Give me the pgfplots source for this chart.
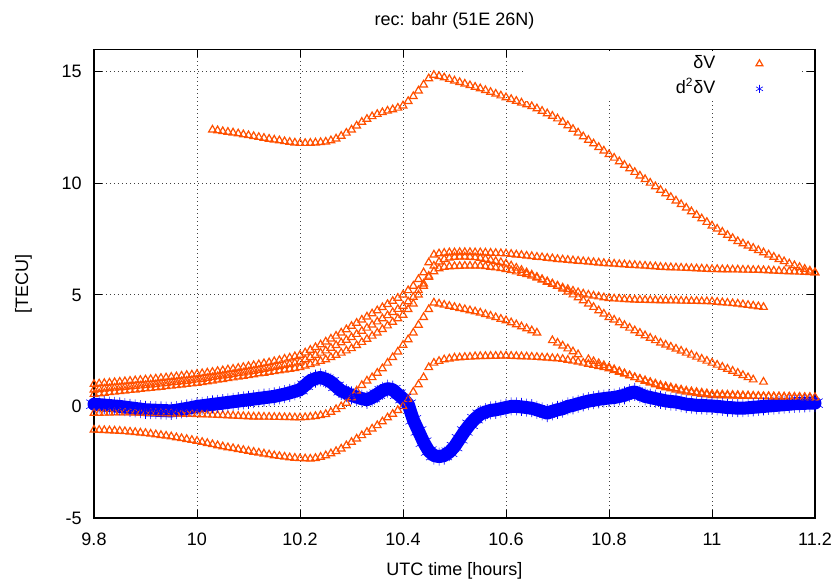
\documentclass[border=0pt]{standalone}
\usepackage{fontspec}
\setmainfont{Liberation Sans}
\usepackage{pgfplots}
\usepackage{pgfplotstable}
\pgfplotsset{compat=1.18}
\definecolor{dvorange}{RGB}{255,80,0}
\definecolor{dvblue}{RGB}{0,0,255}

\pgfplotstableread{
x y
10.03 12.40
10.04 12.37
10.05 12.33
10.06 12.30
10.07 12.27
10.08 12.23
10.09 12.19
10.10 12.15
10.11 12.11
10.12 12.07
10.13 12.03
10.14 11.99
10.15 11.95
10.16 11.92
10.17 11.88
10.18 11.85
10.19 11.82
10.20 11.80
10.21 11.80
10.22 11.81
10.23 11.82
10.24 11.84
10.25 11.86
10.26 11.92
10.27 12.00
10.28 12.12
10.29 12.26
10.30 12.40
10.31 12.58
10.32 12.75
10.33 12.88
10.34 13.00
10.35 13.10
10.36 13.18
10.37 13.25
10.38 13.31
10.39 13.38
10.40 13.48
10.41 13.68
10.42 13.90
10.43 14.15
10.44 14.42
10.45 14.70
10.46 14.85
10.47 14.80
10.48 14.74
10.49 14.67
10.50 14.60
10.51 14.53
10.52 14.46
10.53 14.39
10.54 14.32
10.55 14.25
10.56 14.17
10.57 14.09
10.58 14.01
10.59 13.93
10.60 13.85
10.61 13.77
10.62 13.69
10.63 13.61
10.64 13.53
10.65 13.45
10.66 13.35
10.67 13.24
10.68 13.13
10.69 13.02
10.70 12.90
10.71 12.75
10.72 12.59
10.73 12.43
10.74 12.27
10.75 12.10
10.76 11.94
10.77 11.78
10.78 11.62
10.79 11.46
10.80 11.30
10.81 11.14
10.82 10.98
10.83 10.82
10.84 10.66
10.85 10.50
10.86 10.34
10.87 10.18
10.88 10.02
10.89 9.86
10.90 9.70
10.91 9.54
10.92 9.38
10.93 9.22
10.94 9.06
10.95 8.90
10.96 8.74
10.97 8.58
10.98 8.42
10.99 8.26
11.00 8.10
11.01 7.96
11.02 7.82
11.03 7.68
11.04 7.54
11.05 7.40
11.06 7.30
11.07 7.20
11.08 7.10
11.09 7.00
11.10 6.90
11.11 6.80
11.12 6.70
11.13 6.60
11.14 6.50
11.15 6.40
11.16 6.32
11.17 6.24
11.18 6.16
11.19 6.08
11.20 6.00
}\tA

\pgfplotstableread{
x y
9.80 1.00
9.81 1.02
9.82 1.04
9.83 1.06
9.84 1.08
9.85 1.10
9.86 1.12
9.87 1.14
9.88 1.16
9.89 1.18
9.90 1.20
9.91 1.22
9.92 1.24
9.93 1.27
9.94 1.29
9.95 1.32
9.96 1.34
9.97 1.37
9.98 1.40
9.99 1.42
10.00 1.45
10.01 1.48
10.02 1.51
10.03 1.54
10.04 1.58
10.05 1.61
10.06 1.65
10.07 1.68
10.08 1.72
10.09 1.76
10.10 1.80
10.11 1.84
10.12 1.88
10.13 1.93
10.14 1.97
10.15 2.02
10.16 2.07
10.17 2.13
10.18 2.18
10.19 2.24
10.20 2.30
10.21 2.41
10.22 2.53
10.23 2.65
10.24 2.77
10.25 2.90
10.26 3.03
10.27 3.16
10.28 3.30
10.29 3.45
10.30 3.60
10.31 3.74
10.32 3.88
10.33 4.02
10.34 4.16
10.35 4.30
10.36 4.44
10.37 4.58
10.38 4.72
10.39 4.86
10.40 5.00
10.41 5.20
10.42 5.40
10.43 5.70
10.44 6.00
10.45 6.45
10.46 6.80
10.47 6.85
10.48 6.88
10.49 6.90
10.50 6.90
10.51 6.91
10.52 6.91
10.53 6.91
10.54 6.90
10.55 6.90
10.56 6.89
10.57 6.88
10.58 6.87
10.59 6.86
10.60 6.85
10.61 6.83
10.62 6.80
10.63 6.78
10.64 6.75
10.65 6.73
10.66 6.70
10.67 6.68
10.68 6.65
10.69 6.63
10.70 6.60
10.71 6.58
10.72 6.56
10.73 6.54
10.74 6.52
10.75 6.50
10.76 6.48
10.77 6.46
10.78 6.44
10.79 6.42
10.80 6.40
10.81 6.39
10.82 6.37
10.83 6.36
10.84 6.34
10.85 6.33
10.86 6.31
10.87 6.30
10.88 6.28
10.89 6.27
10.90 6.25
10.91 6.24
10.92 6.23
10.93 6.22
10.94 6.21
10.95 6.20
10.96 6.19
10.97 6.18
10.98 6.17
10.99 6.16
11.00 6.15
11.01 6.15
11.02 6.14
11.03 6.14
11.04 6.13
11.05 6.13
11.06 6.12
11.07 6.12
11.08 6.11
11.09 6.11
11.10 6.10
11.11 6.09
11.12 6.08
11.13 6.07
11.14 6.06
11.15 6.05
11.16 6.04
11.17 6.03
11.18 6.02
11.19 6.01
11.20 6.00
}\tB

\pgfplotstableread{
x y
9.80 0.75
9.81 0.77
9.82 0.79
9.83 0.81
9.84 0.83
9.85 0.85
9.86 0.87
9.87 0.89
9.88 0.91
9.89 0.93
9.90 0.95
9.91 0.97
9.92 0.99
9.93 1.02
9.94 1.04
9.95 1.07
9.96 1.09
9.97 1.12
9.98 1.14
9.99 1.17
10.00 1.20
10.01 1.23
10.02 1.27
10.03 1.30
10.04 1.34
10.05 1.37
10.06 1.41
10.07 1.44
10.08 1.48
10.09 1.51
10.10 1.55
10.11 1.59
10.12 1.63
10.13 1.67
10.14 1.71
10.15 1.76
10.16 1.80
10.17 1.85
10.18 1.90
10.19 1.95
10.20 2.00
10.21 2.10
10.22 2.20
10.23 2.30
10.24 2.40
10.25 2.50
10.26 2.62
10.27 2.74
10.28 2.86
10.29 2.98
10.30 3.10
10.31 3.24
10.32 3.38
10.33 3.52
10.34 3.66
10.35 3.80
10.36 3.94
10.37 4.08
10.38 4.22
10.39 4.36
10.40 4.50
10.41 4.70
10.42 4.90
10.43 5.20
10.44 5.50
10.45 5.80
10.46 6.05
10.47 6.18
10.48 6.25
10.49 6.27
10.50 6.28
10.51 6.29
10.52 6.30
10.53 6.30
10.54 6.30
10.55 6.30
10.56 6.28
10.57 6.25
10.58 6.22
10.59 6.19
10.60 6.15
10.61 6.10
10.62 6.04
10.63 5.98
10.64 5.92
10.65 5.85
10.66 5.76
10.67 5.67
10.68 5.58
10.69 5.49
10.70 5.40
10.71 5.32
10.72 5.25
10.73 5.18
10.74 5.11
10.75 5.05
10.76 5.00
10.77 4.96
10.78 4.92
10.79 4.88
10.80 4.85
10.81 4.83
10.82 4.82
10.83 4.80
10.84 4.79
10.85 4.78
10.86 4.77
10.87 4.77
10.88 4.76
10.89 4.76
10.90 4.75
10.91 4.75
10.92 4.74
10.93 4.74
10.94 4.73
10.95 4.73
10.96 4.72
10.97 4.72
10.98 4.71
10.99 4.71
11.00 4.70
11.01 4.68
11.02 4.66
11.03 4.64
11.04 4.62
11.05 4.60
11.06 4.57
11.07 4.54
11.08 4.51
11.09 4.48
11.10 4.45
}\tC

\pgfplotstableread{
x y
9.80 0.55
9.81 0.58
9.82 0.60
9.83 0.63
9.84 0.65
9.85 0.68
9.86 0.70
9.87 0.73
9.88 0.75
9.89 0.78
9.90 0.80
9.91 0.82
9.92 0.85
9.93 0.87
9.94 0.90
9.95 0.92
9.96 0.95
9.97 0.97
9.98 1.00
9.99 1.02
10.00 1.05
10.01 1.08
10.02 1.12
10.03 1.15
10.04 1.19
10.05 1.22
10.06 1.26
10.07 1.29
10.08 1.33
10.09 1.36
10.10 1.40
10.11 1.43
10.12 1.47
10.13 1.50
10.14 1.54
10.15 1.57
10.16 1.61
10.17 1.64
10.18 1.68
10.19 1.71
10.20 1.75
10.21 1.82
10.22 1.89
10.23 1.96
10.24 2.03
10.25 2.10
10.26 2.20
10.27 2.30
10.28 2.40
10.29 2.50
10.30 2.60
10.31 2.74
10.32 2.88
10.33 3.02
10.34 3.16
10.35 3.30
10.36 3.46
10.37 3.62
10.38 3.78
10.39 3.94
10.40 4.10
10.41 4.35
10.42 4.60
10.43 5.00
10.44 5.40
10.45 5.85
10.46 6.30
10.47 6.48
10.48 6.60
10.49 6.66
10.50 6.70
10.51 6.71
10.52 6.71
10.53 6.70
10.54 6.68
10.55 6.65
10.56 6.61
10.57 6.56
10.58 6.51
10.59 6.46
10.60 6.40
10.61 6.31
10.62 6.21
10.63 6.11
10.64 6.00
10.65 5.90
10.66 5.80
10.67 5.70
10.68 5.60
10.69 5.50
10.70 5.40
10.71 5.27
10.72 5.14
10.73 5.01
10.74 4.88
10.75 4.75
10.76 4.60
10.77 4.45
10.78 4.30
10.79 4.15
10.80 4.00
10.81 3.88
10.82 3.76
10.83 3.64
10.84 3.52
10.85 3.40
10.86 3.29
10.87 3.18
10.88 3.07
10.89 2.96
10.90 2.85
10.91 2.76
10.92 2.67
10.93 2.58
10.94 2.49
10.95 2.40
10.96 2.31
10.97 2.22
10.98 2.13
10.99 2.04
11.00 1.95
11.01 1.86
11.02 1.77
11.03 1.68
11.04 1.59
11.05 1.50
11.06 1.40
11.07 1.30
11.08 1.20
11.10 1.10
}\tD

\pgfplotstableread{
x y
9.80 -0.30
9.81 -0.30
9.82 -0.29
9.83 -0.29
9.84 -0.28
9.85 -0.28
9.86 -0.28
9.87 -0.28
9.88 -0.29
9.89 -0.29
9.90 -0.30
9.91 -0.30
9.92 -0.31
9.93 -0.31
9.94 -0.32
9.95 -0.32
9.96 -0.33
9.97 -0.33
9.98 -0.34
9.99 -0.34
10.00 -0.35
10.01 -0.36
10.02 -0.37
10.03 -0.38
10.04 -0.39
10.05 -0.40
10.06 -0.41
10.07 -0.42
10.08 -0.43
10.09 -0.44
10.10 -0.45
10.11 -0.46
10.12 -0.46
10.13 -0.47
10.14 -0.47
10.15 -0.48
10.16 -0.48
10.17 -0.49
10.18 -0.49
10.19 -0.50
10.20 -0.50
10.21 -0.49
10.22 -0.47
10.23 -0.44
10.24 -0.40
10.25 -0.35
10.26 -0.25
10.27 -0.13
10.28 0.00
10.29 0.15
10.30 0.40
10.31 0.70
10.32 0.95
10.33 1.15
10.34 1.30
10.35 1.50
10.36 1.70
10.37 1.95
10.38 2.20
10.39 2.45
10.40 2.75
10.41 3.00
10.42 3.30
10.43 3.65
10.44 4.00
10.45 4.35
10.46 4.65
10.47 4.60
10.48 4.55
10.49 4.50
10.50 4.45
10.51 4.40
10.52 4.35
10.53 4.30
10.54 4.25
10.55 4.20
10.56 4.13
10.57 4.06
10.58 3.99
10.59 3.92
10.60 3.85
10.61 3.76
10.62 3.67
10.63 3.58
10.64 3.49
10.65 3.40
10.66 3.30
10.69 2.96
10.70 2.85
10.71 2.72
10.72 2.59
10.73 2.46
10.74 2.33
10.76 2.11
10.77 2.02
10.78 1.93
10.79 1.84
10.80 1.75
10.81 1.66
10.82 1.57
10.83 1.48
10.84 1.39
10.85 1.30
10.86 1.23
10.87 1.16
10.88 1.09
10.89 1.02
10.90 0.95
10.91 0.90
10.92 0.85
10.93 0.80
10.94 0.75
10.95 0.70
10.96 0.67
10.97 0.64
10.98 0.61
10.99 0.58
11.00 0.55
11.01 0.54
11.02 0.53
11.03 0.52
11.04 0.51
11.05 0.50
11.06 0.49
11.07 0.48
11.08 0.47
11.09 0.46
11.10 0.45
11.11 0.45
11.12 0.44
11.13 0.44
11.14 0.43
11.15 0.43
11.16 0.42
11.17 0.42
11.18 0.41
11.19 0.41
11.20 0.40
}\tE

\pgfplotstableread{
x y
9.80 -1.05
9.81 -1.06
9.82 -1.07
9.83 -1.08
9.84 -1.09
9.85 -1.10
9.86 -1.12
9.87 -1.14
9.88 -1.16
9.89 -1.18
9.90 -1.20
9.91 -1.23
9.92 -1.26
9.93 -1.29
9.94 -1.32
9.95 -1.35
9.96 -1.39
9.97 -1.43
9.98 -1.47
9.99 -1.51
10.00 -1.55
10.01 -1.60
10.02 -1.65
10.03 -1.70
10.04 -1.75
10.05 -1.80
10.06 -1.84
10.07 -1.88
10.08 -1.92
10.09 -1.96
10.10 -2.00
10.11 -2.04
10.12 -2.08
10.13 -2.12
10.14 -2.16
10.15 -2.20
10.16 -2.23
10.17 -2.26
10.18 -2.29
10.19 -2.31
10.20 -2.33
10.21 -2.34
10.22 -2.35
10.23 -2.32
10.24 -2.27
10.25 -2.20
10.26 -2.11
10.27 -2.01
10.28 -1.90
10.29 -1.75
10.30 -1.60
10.31 -1.45
10.32 -1.30
10.33 -1.15
10.34 -1.00
10.35 -0.85
10.36 -0.68
10.37 -0.50
10.38 -0.34
10.39 -0.17
10.40 0.00
10.41 0.32
10.42 0.65
10.43 0.98
10.44 1.30
10.45 1.75
10.46 1.95
10.47 2.03
10.48 2.10
10.49 2.14
10.50 2.18
10.51 2.19
10.52 2.21
10.53 2.22
10.54 2.24
10.55 2.25
10.56 2.25
10.57 2.26
10.58 2.26
10.59 2.27
10.60 2.27
10.61 2.26
10.62 2.25
10.63 2.24
10.64 2.23
10.65 2.22
10.66 2.21
10.67 2.19
10.68 2.18
10.69 2.16
10.70 2.15
10.71 2.12
10.72 2.08
10.73 2.04
10.74 2.00
10.75 1.95
10.76 1.90
10.77 1.85
10.78 1.80
10.79 1.75
10.80 1.70
10.81 1.62
10.82 1.54
10.83 1.46
10.84 1.38
10.85 1.30
10.86 1.22
10.87 1.14
10.88 1.06
10.89 0.98
10.90 0.90
10.91 0.85
10.92 0.80
10.93 0.75
10.94 0.70
10.95 0.65
10.96 0.62
10.97 0.59
10.98 0.56
10.99 0.53
11.00 0.50
11.01 0.50
11.02 0.49
11.03 0.49
11.04 0.48
11.05 0.48
11.06 0.47
11.07 0.47
11.08 0.46
11.09 0.46
11.10 0.45
11.11 0.45
11.12 0.44
11.13 0.44
11.14 0.43
11.15 0.43
11.16 0.42
11.17 0.42
11.18 0.41
11.19 0.41
11.20 0.40
}\tF

\pgfplotstableread{
x y
9.80 0.10
9.81 0.08
9.82 0.06
9.83 0.04
9.84 0.02
9.85 0.00
9.86 -0.03
9.87 -0.06
9.88 -0.09
9.89 -0.12
9.90 -0.15
9.91 -0.16
9.92 -0.17
9.93 -0.18
9.94 -0.19
9.95 -0.20
9.96 -0.17
9.97 -0.13
9.98 -0.09
9.99 -0.05
10.00 0.00
10.01 0.03
10.02 0.06
10.03 0.09
10.04 0.12
10.05 0.15
10.06 0.18
10.07 0.21
10.08 0.24
10.09 0.27
10.10 0.30
10.11 0.33
10.12 0.36
10.13 0.39
10.14 0.42
10.15 0.45
10.16 0.50
10.17 0.55
10.18 0.61
10.19 0.68
10.20 0.75
10.21 0.95
10.22 1.15
10.23 1.25
10.24 1.30
10.25 1.22
10.26 1.10
10.27 0.90
10.28 0.70
10.29 0.60
10.30 0.50
10.31 0.42
10.32 0.35
10.33 0.30
10.34 0.40
10.35 0.55
10.36 0.70
10.37 0.80
10.38 0.75
10.39 0.55
10.40 0.35
10.41 0.10
10.42 -0.60
10.43 -1.10
10.44 -1.60
10.45 -2.00
10.46 -2.20
10.47 -2.25
10.48 -2.20
10.49 -2.05
10.50 -1.80
10.51 -1.45
10.52 -1.10
10.53 -0.80
10.54 -0.55
10.55 -0.35
10.56 -0.25
10.57 -0.18
10.58 -0.15
10.59 -0.10
10.60 -0.05
10.61 0.00
10.62 0.00
10.63 -0.02
10.64 -0.05
10.65 -0.08
10.66 -0.15
10.67 -0.22
10.68 -0.30
10.69 -0.22
10.70 -0.15
10.71 -0.10
10.72 0.00
10.73 0.05
10.74 0.12
10.75 0.18
10.76 0.24
10.77 0.28
10.78 0.32
10.79 0.35
10.80 0.38
10.81 0.40
10.82 0.45
10.83 0.50
10.84 0.60
10.85 0.65
10.86 0.55
10.87 0.45
10.88 0.40
10.89 0.35
10.90 0.30
10.91 0.25
10.92 0.22
10.93 0.20
10.94 0.15
10.95 0.10
10.96 0.08
10.97 0.05
10.98 0.05
10.99 0.03
11.00 0.02
11.01 0.00
11.02 -0.02
11.03 -0.05
11.04 -0.06
11.05 -0.08
11.06 -0.08
11.07 -0.06
11.08 -0.04
11.09 -0.02
11.10 0.00
11.11 0.02
11.12 0.04
11.13 0.06
11.14 0.08
11.15 0.10
11.16 0.12
11.17 0.13
11.18 0.14
11.19 0.15
11.20 0.15
}\tBlue

\begin{document}
\fontsize{9}{11}\selectfont
\begin{tikzpicture}
\path[use as bounding box] (-47pt,-31.5pt) rectangle (373pt,259pt);
\begin{axis}[
  at={(0pt,0pt)}, anchor=south west,
  scale only axis, width=360.5pt, height=234.25pt,
  xmin=9.8, xmax=11.2, ymin=-5, ymax=16,
  xtick={9.8,10,10.2,10.4,10.6,10.8,11,11.2},
  xticklabels={9.8,10,10.2,10.4,10.6,10.8,11,11.2},
  ytick={-5,0,5,10,15},
  yticklabels={-5,0,5,10,15},
  tick pos=both, tick align=inside, major tick length=4pt,
  tick style={black, line width=0.5pt},
  axis line style={black, line width=0.6pt},
  grid=major,
  grid style={black!75, line width=0.5pt, dash pattern=on 0.5pt off 1.5pt},
  xticklabel style={yshift=-4.5pt},
  yticklabel style={xshift=-3pt},
  every axis title shift=0pt,
  title={rec: bahr (51E 26N)},
  title style={at={(axis description cs:0.5,1.0502)}, anchor=base},
  xlabel={UTC time [hours]},
  xlabel style={at={(axis description cs:0.5,-0.1217)}, anchor=base},
  ylabel={[TECU]},
  ylabel style={at={(axis description cs:-0.0915,0.5)}, anchor=base},
  clip=false,
  legend plot pos=right,
  legend image code/.code={\path[draw=none, fill=none] (0pt,-1pt) rectangle (34pt,1pt);
    \draw[mark repeat=2,mark phase=2,#1] plot coordinates {(0pt,0pt) (14pt,0pt) (34pt,0pt)};},
  legend image post style={mark size=2pt},
  legend style={draw=none, fill=white, at={(axis description cs:0.979,0.997)}, anchor=north east,
    inner sep=0pt, row sep=0pt, column sep=5pt,
    nodes={text height=7pt, text depth=2pt, inner ysep=1.75pt, inner xsep=3pt}},
]
\addplot[only marks, dvorange, mark=triangle, mark size=2.2pt, mark options={line width=0.6pt}] table {\tA};
\addlegendentry{\makebox[92pt][r]{δV}}
\addplot[forget plot, only marks, dvorange, mark=triangle, mark size=2.2pt, mark options={line width=0.6pt}] table {\tB};
\addplot[forget plot, only marks, dvorange, mark=triangle, mark size=2.2pt, mark options={line width=0.6pt}] table {\tC};
\addplot[forget plot, only marks, dvorange, mark=triangle, mark size=2.2pt, mark options={line width=0.6pt}] table {\tD};
\addplot[forget plot, only marks, dvorange, mark=triangle, mark size=2.2pt, mark options={line width=0.6pt}] table {\tE};
\addplot[forget plot, only marks, dvorange, mark=triangle, mark size=2.2pt, mark options={line width=0.6pt}] table {\tF};
\addplot[forget plot, dvblue, no marks, line width=6.5pt, line join=round, line cap=round] table {\tBlue};
\addplot[only marks, dvblue, mark=asterisk, mark size=4.5pt, mark options={line width=0.3pt}] table {\tBlue};
\addlegendentry{\makebox[92pt][r]{d\textsuperscript{2}δV}}
\end{axis}
\end{tikzpicture}
\end{document}
